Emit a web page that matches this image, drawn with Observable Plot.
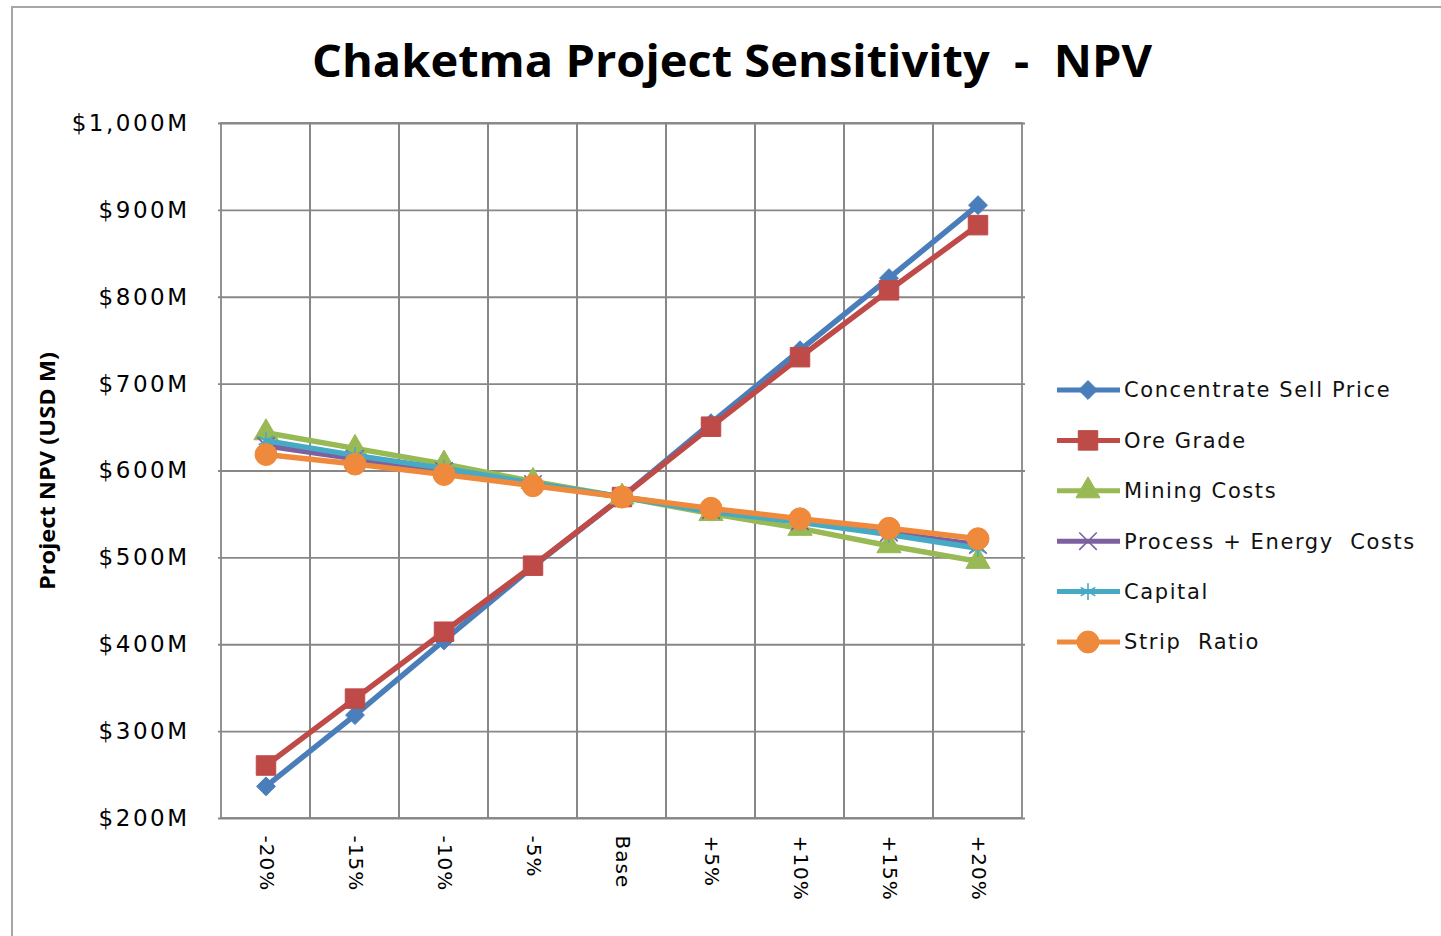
<!DOCTYPE html>
<html><head><meta charset="utf-8">
<script src="https://cdn.jsdelivr.net/npm/d3@7"></script>
<script src="https://cdn.jsdelivr.net/npm/@observablehq/plot@0.6"></script>
<style>
body{margin:0;background:#fff;width:1441px;height:936px;overflow:hidden;position:relative;font-family:"DejaVu Sans",sans-serif}
#frame{position:absolute;left:11px;top:6px;width:1500px;height:1000px;border:2px solid #a6a6a6;box-sizing:border-box}
#chart{position:absolute;left:0;top:100px}
#overlay{position:absolute;left:0;top:0;pointer-events:none}
#overlay text{white-space:pre}
[aria-label="y-axis tick label"] text{letter-spacing:2.5px}
[aria-label="x-axis tick label"] text{letter-spacing:1px}
</style>
</head><body>
<div id="frame"></div>
<div id="chart"></div>
<svg id="overlay" width="1441" height="936"></svg>
<script>
const categories = ["-20%","-15%","-10%","-5%","Base","+5%","+10%","+15%","+20%"];
const seriesNames = ["Concentrate Sell Price","Ore Grade","Mining Costs","Process + Energy  Costs","Capital","Strip  Ratio"];
const concentrateSellPrice = [237,319,405,490,570,655,739,822,906];
const oreGrade = [261,338,415,491,570,651,731,808,883];
const miningCosts = [644,626,608,588,570,551,534,514,496];
const processEnergyCosts = [629,614,600,585,570,555,542,529,515];
const capital = [635,618,603,586,570,553,541,527,511];
const stripRatio = [619,608,596,583,570,557,545,534,522];
const yTicks = [200,300,400,500,600,700,800,900,1000];

const seriesValues = [concentrateSellPrice, oreGrade, miningCosts, processEnergyCosts, capital, stripRatio];
const colors = ["#4a7ebb","#be4b48","#98b954","#7d60a0","#46aac5","#ef8a3c"];
const symbols = ["diamond2","square","triangle","times","asterisk","circle"];
const radii = [8.5,11,9,8,8,11];
const strokeSym = [false,false,false,true,true,false];

const rows = [];
seriesNames.forEach((s,i)=>categories.forEach((c,j)=>rows.push({series:s, cat:c, value:seriesValues[i][j]})));

const fmt = d => "$" + d3.format(",")(d) + "M";
const marks = [
  Plot.gridY({ticks:yTicks, stroke:"#878787", strokeOpacity:1, strokeWidth:1.8}),
  Plot.cell(categories,{x:d=>d, fill:"none", stroke:"#878787", strokeWidth:1.8}),
  Plot.axisY({ticks:yTicks, tickFormat:fmt, tickSize:0, tickPadding:29, fontSize:23, label:null}),
  Plot.axisX({tickRotate:90, tickSize:0, tickPadding:17, fontSize:20, label:null})
];
seriesNames.forEach((s,i)=>{
  const data = rows.filter(r=>r.series===s);
  marks.push(Plot.line(data,{x:"cat", y:"value", stroke:colors[i], strokeWidth:5.5, strokeLinejoin:"round"}));
  if (strokeSym[i]) {
    marks.push(Plot.dot(data,{x:"cat", y:"value", symbol:symbols[i], stroke:colors[i], strokeWidth:1.6, r:radii[i]}));
  } else {
    marks.push(Plot.dot(data,{x:"cat", y:"value", symbol:symbols[i], fill:colors[i], stroke:colors[i], strokeWidth:1, r:radii[i]}));
  }
});

const chart = Plot.plot({
  width:1441, height:836,
  marginLeft:218, marginRight:416, marginTop:23, marginBottom:118,
  x:{type:"band", domain:categories, padding:0, label:null},
  y:{domain:[200,1000], label:null},
  style:{fontFamily:"DejaVu Sans", background:"transparent", color:"#000"},
  marks
});
document.getElementById("chart").appendChild(chart);

const ov = d3.select("#overlay");
ov.append("text").attr("x",732).attr("y",77).attr("text-anchor","middle")
  .attr("font-family","Open Sans").attr("font-weight",700).attr("font-size",45)
  .attr("textLength",840).attr("lengthAdjust","spacingAndGlyphs")
  .text("Chaketma Project Sensitivity  -  NPV");
ov.append("text").attr("transform","translate(49,471) rotate(-90)").attr("text-anchor","middle")
  .attr("dominant-baseline","middle")
  .attr("font-family","Liberation Sans Narrow, Open Sans").attr("font-weight",700).attr("font-size",22)
  .attr("textLength",238).attr("lengthAdjust","spacingAndGlyphs")
  .text("Project NPV (USD M)");

seriesNames.forEach((s,i)=>{
  const y = 390 + i*50.4;
  const g = ov.append("g");
  g.append("line").attr("x1",1057).attr("x2",1120).attr("y1",y).attr("y2",y)
    .attr("stroke",colors[i]).attr("stroke-width",5);
  const typeMap = {diamond2:d3.symbolDiamond2, square:d3.symbolSquare, triangle:d3.symbolTriangle, times:d3.symbolTimes, asterisk:d3.symbolAsterisk, circle:d3.symbolCircle};
  const sym = d3.symbol(typeMap[symbols[i]], Math.PI*radii[i]*radii[i]);
  const p = g.append("path").attr("d",sym()).attr("transform",`translate(1088,${y})`);
  if (strokeSym[i]) p.attr("fill","none").attr("stroke",colors[i]).attr("stroke-width",1.6);
  else p.attr("fill",colors[i]).attr("stroke",colors[i]);
  g.append("text").attr("x",1124).attr("y",y).attr("dy","0.35em")
    .attr("font-family","DejaVu Sans").attr("font-size",21).attr("letter-spacing","1.6px")
    .attr("fill","#111").text(s);
});
</script>
</body></html>
